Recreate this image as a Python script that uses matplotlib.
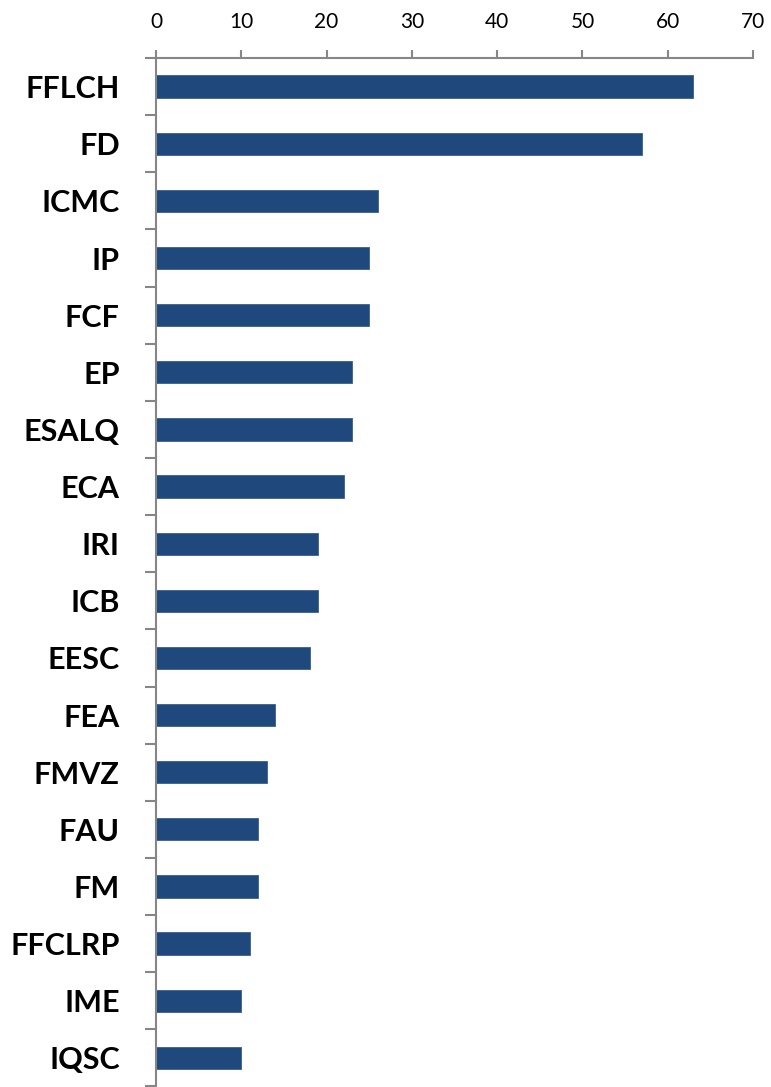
import numpy as np
import matplotlib.pyplot as plt
from matplotlib.ticker import FixedLocator

# Units and their counts
units = ["FFLCH", "FD", "ICMC", "IP", "FCF", "EP", "ESALQ", "ECA", "IRI",
         "ICB", "EESC", "FEA", "FMVZ", "FAU", "FM", "FFCLRP", "IME", "IQSC"]
counts = [63, 57, 26, 25, 25, 23, 23, 22, 19, 19, 18, 14, 13, 12, 12, 11, 10, 10]
xticks = [0, 10, 20, 30, 40, 50, 60, 70]

bar_color = "#1F497D"
axis_color = "#868686"

fig = plt.figure(figsize=(7.71, 10.87), dpi=100)
ax = fig.add_axes([0.2023, 0.0005, 0.7744, 0.9461])

pos = np.arange(len(units))
ax.barh(pos, counts, height=0.39, color=bar_color, edgecolor="#3A5F8E", linewidth=0.6)

ax.set_xlim(0, 70)
ax.set_ylim(len(units) - 0.5, -0.5)

# x axis on top
ax.xaxis.tick_top()
ax.set_xticks(xticks)
ax.tick_params(axis="x", which="major", direction="out", length=6, width=1.5,
               color=axis_color, pad=13, labelsize=15)
for lbl in ax.get_xticklabels():
    lbl.set_fontfamily("Lato")

# y axis: labels at centres, ticks at boundaries
ax.set_yticks(pos)
ax.set_yticklabels(units, fontfamily="Lato", fontweight="bold", fontsize=22)
ax.tick_params(axis="y", which="major", length=0, pad=26)
ax.yaxis.set_minor_locator(FixedLocator(np.arange(-0.5, len(units), 1.0)))
ax.tick_params(axis="y", which="minor", direction="out", length=8, width=1.5,
               color=axis_color)

for side in ["right", "bottom"]:
    ax.spines[side].set_visible(False)
for side in ["top", "left"]:
    ax.spines[side].set_color(axis_color)
    ax.spines[side].set_linewidth(1.5)

fig.savefig("out.png", dpi=100)
